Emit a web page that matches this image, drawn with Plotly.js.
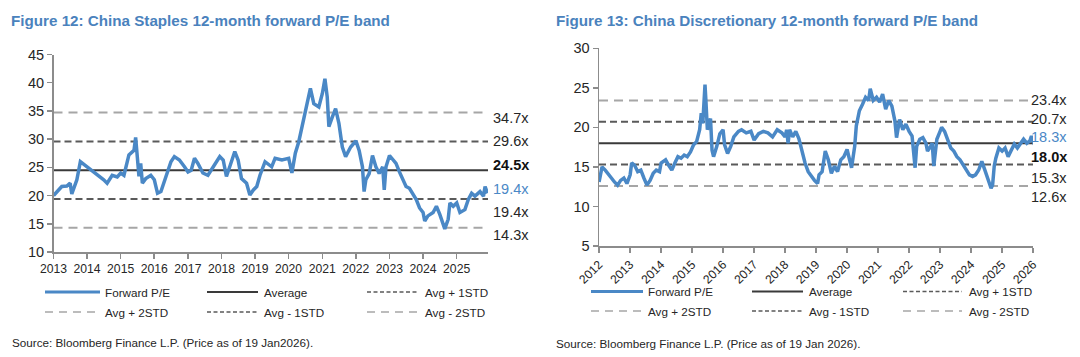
<!DOCTYPE html>
<html>
<head>
<meta charset="utf-8">
<script src="https://cdn.plot.ly/plotly-3.0.1.min.js"></script>
<style>
html,body{margin:0;padding:0;background:#fff;}
#chart{width:1080px;height:357px;}
</style>
</head>
<body>
<div id="chart"></div>
<script>
// ---------------- DATA ----------------
const staplesTitle = "Figure 12: China Staples 12-month forward P/E band";
const discTitle = "Figure 13: China Discretionary 12-month forward P/E band";
const staplesSource = "Source: Bloomberg Finance L.P. (Price as of 19 Jan2026).";
const discSource = "Source: Bloomberg Finance L.P. (Price as of 19 Jan 2026).";

const staplesDates = ["2013-01-02","2013-02-06","2013-04-01","2013-05-26","2013-07-01","2013-07-19","2013-09-12","2013-10-20",
"2014-01-02","2014-02-06","2014-04-20","2014-07-01","2014-08-07","2014-10-01","2014-11-25",
"2015-01-02","2015-02-06","2015-04-01","2015-05-26","2015-06-13","2015-07-01","2015-07-19","2015-08-07","2015-08-25","2015-10-01","2015-11-25",
"2016-01-02","2016-02-06","2016-03-14","2016-05-08","2016-07-01","2016-08-07","2016-10-01","2016-11-25",
"2017-01-02","2017-02-06","2017-03-14","2017-04-20","2017-06-13","2017-08-07","2017-10-01","2017-12-14",
"2018-01-20","2018-02-24","2018-04-01","2018-05-26","2018-07-01","2018-08-07","2018-10-01","2018-11-06","2018-12-14",
"2019-01-20","2019-02-24","2019-04-20","2019-07-01","2019-08-07","2019-10-20",
"2020-01-02","2020-02-06","2020-03-14","2020-04-20","2020-05-26","2020-07-01","2020-08-07","2020-08-25","2020-10-01","2020-11-25",
"2021-01-02","2021-01-30","2021-02-24","2021-03-14","2021-04-20","2021-05-26","2021-07-01","2021-08-07","2021-09-12","2021-11-06",
"2022-01-02","2022-02-06","2022-03-14","2022-04-01","2022-04-20","2022-05-26","2022-07-01","2022-08-07","2022-09-12","2022-10-20","2022-11-06","2022-11-25",
"2023-01-02","2023-02-06","2023-03-14","2023-04-20","2023-05-26","2023-07-01","2023-08-07","2023-09-12","2023-10-20","2023-11-25",
"2024-01-02","2024-01-20","2024-02-24","2024-04-20","2024-05-26","2024-07-01","2024-08-07","2024-08-25","2024-10-01","2024-10-20","2024-11-25",
"2025-01-02","2025-02-06","2025-04-01","2025-05-08","2025-06-13","2025-07-19","2025-09-12","2025-10-20","2025-11-06","2025-12-02"];
const staplesPE = [20.0,20.7,21.6,21.7,22.2,20.3,22.8,26.0,
25.1,24.5,23.6,22.8,22.2,23.6,23.3,
24.0,23.6,27.2,28.0,30.3,26.9,23.4,25.7,22.2,23.0,23.6,
22.8,20.4,20.7,23.6,26.0,26.9,26.3,25.1,
24.2,24.5,26.6,25.7,24.0,23.6,25.1,26.9,
26.3,23.4,25.1,27.8,26.3,23.0,22.2,20.1,21.0,
21.6,23.6,26.0,25.1,26.6,26.3,
26.6,24.0,27.5,29.5,32.2,34.2,37.2,39.0,36.3,35.7,
38.1,40.7,37.5,32.2,33.9,35.4,32.8,28.6,26.9,28.6,
29.7,28.0,25.1,20.7,22.8,23.9,27.1,25.1,23.9,25.1,21.0,25.1,
27.1,26.5,25.7,24.2,22.8,21.6,21.3,20.4,19.3,17.8,
17.0,15.5,16.4,17.0,18.1,16.7,14.9,14.1,15.8,18.7,18.1,
18.7,17.0,17.5,19.3,20.4,19.9,20.7,19.9,21.6,20.4];
const staplesBands = {avg:24.5, plus1:29.6, plus2:34.7, minus1:19.4, minus2:14.3};
const staplesCurrent = 19.4;
const staplesYears = ["2013","2014","2015","2016","2017","2018","2019","2020","2021","2022","2023","2024","2025"];

const discDates = ["2012-01-02","2012-01-20","2012-02-06","2012-03-14","2012-04-20","2012-05-26","2012-07-01","2012-08-07","2012-09-12","2012-10-20","2012-11-25",
"2013-01-02","2013-01-20","2013-02-24","2013-04-01","2013-05-08","2013-06-13","2013-07-19","2013-08-25","2013-10-01","2013-11-06","2013-12-14",
"2014-01-02","2014-02-24","2014-04-01","2014-05-08","2014-06-13","2014-07-19","2014-08-25","2014-10-01","2014-11-06","2014-12-14",
"2015-01-20","2015-02-24","2015-04-01","2015-04-20","2015-05-08","2015-06-03","2015-06-13","2015-07-01","2015-07-19","2015-08-07","2015-08-25","2015-09-12","2015-10-20","2015-11-25",
"2016-01-02","2016-01-20","2016-02-24","2016-04-01","2016-05-08","2016-07-01","2016-08-07","2016-10-01","2016-11-25",
"2017-01-02","2017-02-24","2017-04-20","2017-06-13","2017-08-07","2017-10-01","2017-11-25",
"2018-01-02","2018-01-20","2018-02-06","2018-02-24","2018-04-01","2018-05-08","2018-06-13","2018-07-19","2018-08-25","2018-10-01","2018-11-06","2018-12-14",
"2019-01-20","2019-02-06","2019-03-14","2019-04-20","2019-05-26","2019-07-01","2019-08-07","2019-09-12","2019-10-20","2019-11-25",
"2020-01-02","2020-02-06","2020-02-24","2020-03-14","2020-04-01","2020-04-20","2020-05-08","2020-05-26","2020-07-01","2020-08-07","2020-09-12","2020-10-01","2020-11-06","2020-12-14",
"2021-01-20","2021-02-24","2021-04-01","2021-05-08","2021-06-13","2021-07-19","2021-08-07","2021-09-12","2021-10-20","2021-11-25",
"2022-01-02","2022-02-06","2022-03-14","2022-04-01","2022-05-08","2022-06-13","2022-07-19","2022-08-07","2022-09-12","2022-10-01","2022-10-20","2022-11-25",
"2023-01-02","2023-01-20","2023-02-24","2023-04-01","2023-05-08","2023-06-13","2023-07-19","2023-08-25","2023-10-01","2023-11-06","2023-12-14",
"2024-01-20","2024-02-24","2024-04-01","2024-05-08","2024-06-13","2024-07-19","2024-08-25","2024-09-12","2024-10-01","2024-10-20","2024-11-25",
"2025-01-02","2025-02-06","2025-03-14","2025-04-20","2025-05-26","2025-07-01","2025-08-07","2025-09-12","2025-10-20","2025-11-25","2025-12-14","2026-01-19"];
const discPE = [13.1,14.4,15.0,14.6,14.0,13.6,13.1,12.7,13.3,13.6,12.9,
14.0,15.5,15.2,14.4,14.6,13.6,12.7,13.3,14.2,14.6,14.4,
15.5,15.9,15.2,14.6,15.5,16.3,16.1,16.5,16.3,16.9,
17.8,18.2,19.7,21.8,20.5,25.4,23.5,19.7,20.5,21.1,17.1,16.3,17.6,19.2,
19.7,17.8,16.7,17.6,18.8,19.5,19.7,19.3,19.5,
18.4,19.2,19.5,19.3,18.8,19.7,19.3,
18.8,19.7,18.0,19.7,18.8,19.5,18.6,17.1,15.5,14.4,13.8,13.3,
12.9,14.0,14.4,17.0,15.9,14.2,15.1,14.4,15.9,16.3,
17.2,15.9,14.9,16.3,17.6,20.2,21.5,22.1,22.9,23.8,23.4,24.9,23.4,23.8,
23.2,24.2,22.3,23.4,22.7,20.8,18.7,21.0,19.7,20.4,
19.5,18.9,14.9,17.6,18.5,18.7,18.0,17.0,17.6,18.0,15.1,18.5,
19.5,20.0,19.5,18.3,17.4,17.0,16.3,15.9,15.3,14.6,14.0,
13.8,14.0,14.6,15.7,14.6,13.6,12.3,12.7,15.1,16.1,17.4,
17.0,17.4,16.3,17.0,17.9,17.4,17.9,18.5,18.0,18.3,18.9,17.8];
const discBands = {avg:18.0, plus1:20.7, plus2:23.4, minus1:15.3, minus2:12.6};
const discCurrent = 18.3;
const discYears = ["2012","2013","2014","2015","2016","2017","2018","2019","2020","2021","2022","2023","2024","2025","2026"];

const legendNames = ["Forward P/E","Average","Avg + 1STD","Avg + 2STD","Avg - 1STD","Avg - 2STD"];

// ---------------- STYLE / LAYOUT ----------------
const W = 1080, H = 357;
const PX = x => x / W;
const PY = y => 1 - y / H;
const REG = '"Liberation Sans", Arial, sans-serif';
const BLUE = '#4a88c6';
const TITLEBLUE = '#4a82bd';
const TXT = '#262626';
const AVGC = '#3a3a3a';
const STD1C = '#5a5a5a';
const STD2C = '#a6a6a6';

const styles = {
  avg:    {color: AVGC, width: 2, dash: 'solid'},
  plus1:  {color: STD1C, width: 2, dash: '7px,4px'},
  plus2:  {color: STD2C, width: 2, dash: '9px,6px'},
  minus1: {color: STD1C, width: 2, dash: '7px,4px'},
  minus2: {color: STD2C, width: 2, dash: '9px,6px'}
};

function bandTraces(bands, xStart, xEnd, xa, ya) {
  return Object.keys(styles).map(k => ({
    type: 'scatter', mode: 'lines', x: [xStart, xEnd], y: [bands[k], bands[k]],
    xaxis: xa, yaxis: ya, line: styles[k], hoverinfo: 'skip', showlegend: false
  }));
}

const sEnd = '2025-12-08';
const dEnd = '2026-01-01';

const traces = [
  ...bandTraces(staplesBands, '2013-01-01', sEnd, 'x', 'y'),
  {type:'scatter', mode:'lines', x: staplesDates, y: staplesPE, xaxis:'x', yaxis:'y',
   line:{color: BLUE, width: 3.5}, showlegend:false},
  ...bandTraces(discBands, '2012-01-01', dEnd, 'x2', 'y2'),
  {type:'scatter', mode:'lines', x: discDates, y: discPE, xaxis:'x2', yaxis:'y2',
   line:{color: BLUE, width: 3.5}, showlegend:false}
];

const axisCommon = {
  showline: true, linecolor: '#8c8c8c', linewidth: 1.5,
  ticks: 'outside', ticklen: 5, tickwidth: 1.5, tickcolor: '#8c8c8c',
  showgrid: false, zeroline: false, fixedrange: true
};

const annotations = [];
const shapes = [];

function text(x, y, t, font, anchor) {
  annotations.push({xref:'paper', yref:'paper', x: PX(x), y: PY(y), text: t,
    showarrow:false, xanchor: anchor || 'left', yanchor:'middle', font: font,
    borderpad: 0});
}

// titles & sources
text(10, 20, '<b>' + staplesTitle + '</b>', {family: REG, size: 15.2, color: TITLEBLUE});
text(555, 20, '<b>' + discTitle + '</b>', {family: REG, size: 15.2, color: TITLEBLUE});
text(11, 342, staplesSource, {family: REG, size: 11.7, color: TXT});
text(555, 343, discSource, {family: REG, size: 11.7, color: TXT});

// right-side band labels
const fmt = v => v.toFixed(1) + 'x';
const lab = {family: REG, size: 14.5, color: TXT};
const labBold = {family: REG, size: 14.5, color: '#111'};
const labBlue = {family: REG, size: 14.5, color: BLUE};
// staples: +2, +1, avg, current, -1, -2
text(492, 118.3, fmt(staplesBands.plus2), lab);
text(492, 141.3, fmt(staplesBands.plus1), lab);
text(492, 165.3, '<b>' + fmt(staplesBands.avg) + '</b>', labBold);
text(492, 188.7, fmt(staplesCurrent), labBlue);
text(492, 212, fmt(staplesBands.minus1), lab);
text(492, 234.7, fmt(staplesBands.minus2), lab);
// discretionary: +2, +1, current, avg, -1, -2
text(1030, 100, fmt(discBands.plus2), lab);
text(1030, 118.7, fmt(discBands.plus1), lab);
text(1030, 137.4, fmt(discCurrent), labBlue);
text(1030, 156.7, '<b>' + fmt(discBands.avg) + '</b>', labBold);
text(1030, 177.7, fmt(discBands.minus1), lab);
text(1030, 196.7, fmt(discBands.minus2), lab);

// legends (manual, 3 columns x 2 rows)
const legendStyles = [
  {color: BLUE, width: 3.2, dash: 'solid'},
  {color: AVGC, width: 2, dash: 'solid'},
  {color: STD1C, width: 1.5, dash: '4px,2.5px'},
  {color: STD2C, width: 1.5, dash: '8px,6px'},
  {color: STD1C, width: 1.5, dash: '4px,2.5px'},
  {color: STD2C, width: 1.5, dash: '8px,6px'}
];
function legend(cols, rows) {
  legendNames.forEach((name, i) => {
    const c = cols[i % 3], r = rows[Math.floor(i / 3)];
    shapes.push({type:'line', xref:'paper', yref:'paper', x0: PX(c[0]), x1: PX(c[1]),
      y0: PY(r), y1: PY(r), line: legendStyles[i]});
    text(c[2], r, name, {family: REG, size: 11.7, color: TXT});
  });
}
legend([[45,100,104],[207,258,263],[367,418,424]], [292, 312]);
legend([[591,643,647],[752,803,808],[903,962,968]], [291.5, 311]);

const layout = {
  width: W, height: H,
  margin: {l:0, r:0, t:0, b:0, pad:0},
  paper_bgcolor: '#fff', plot_bgcolor: '#fff',
  showlegend: false, hovermode: false,
  xaxis: Object.assign({}, axisCommon, {
    domain: [PX(53.5), PX(488)], anchor: 'y', type: 'date',
    range: ['2013-01-01', sEnd],
    tickvals: staplesYears.map(y => y + '-01-01'), ticktext: staplesYears,
    tickangle: 0, tickfont: {family: REG, size: 12.2, color: TXT}
  }),
  yaxis: Object.assign({}, axisCommon, {
    domain: [PY(252), PY(54.5)], anchor: 'x', range: [10, 45], dtick: 5, tick0: 10,
    tickfont: {family: REG, size: 14.5, color: TXT}
  }),
  xaxis2: Object.assign({}, axisCommon, {
    domain: [PX(599), PX(1033)], anchor: 'y2', type: 'date',
    range: ['2012-01-01', dEnd],
    tickvals: discYears.map(y => y + '-01-01'), ticktext: discYears,
    tickangle: -45, tickfont: {family: REG, size: 12.2, color: TXT}
  }),
  yaxis2: Object.assign({}, axisCommon, {
    domain: [PY(246), PY(48.3)], anchor: 'x2', range: [5, 30], dtick: 5, tick0: 5,
    tickfont: {family: REG, size: 14.5, color: TXT}
  }),
  annotations: annotations,
  shapes: shapes
};

Plotly.newPlot('chart', traces, layout, {staticPlot: true, displayModeBar: false});
</script>
</body>
</html>
